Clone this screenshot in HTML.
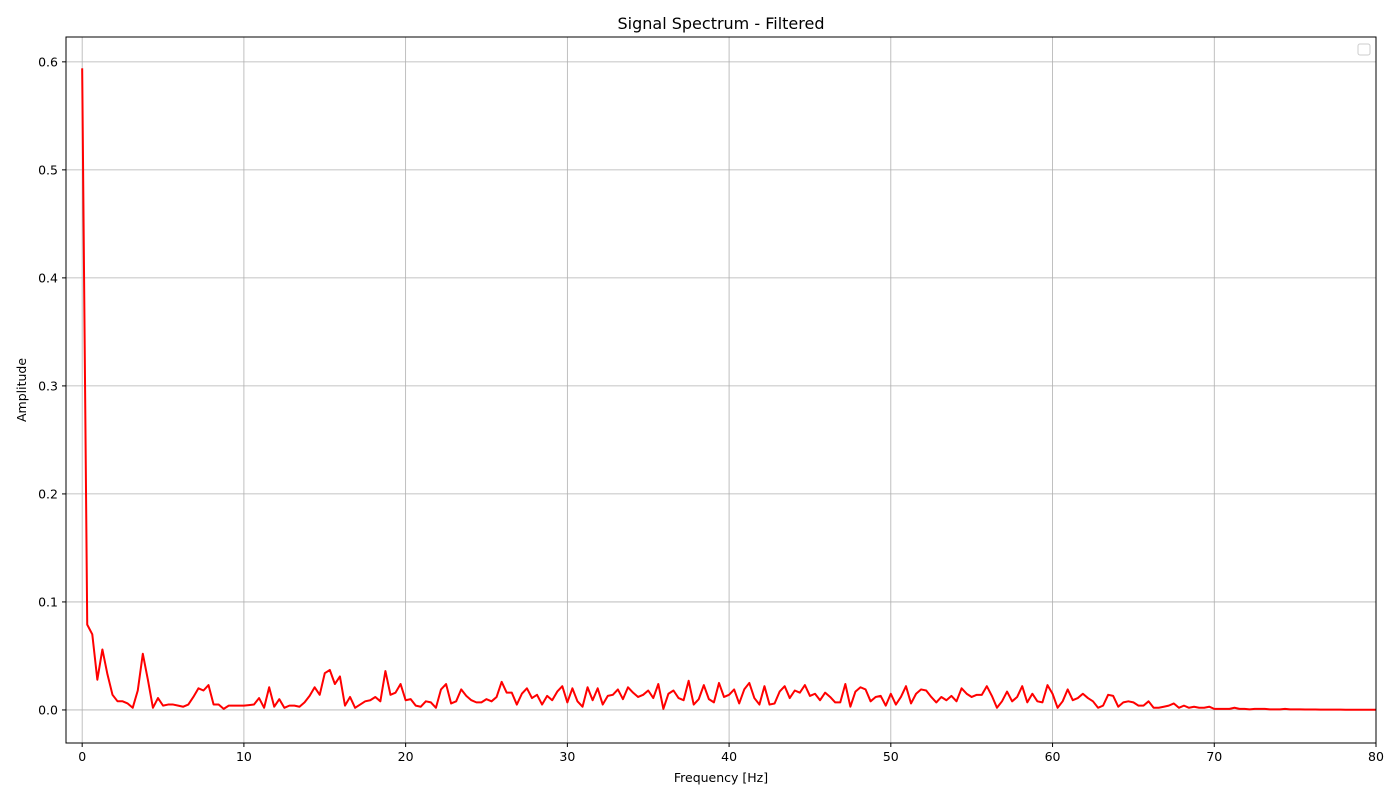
<!DOCTYPE html>
<html><head><meta charset="utf-8"><style>
body{margin:0;background:#fff;font-family:"Liberation Sans","DejaVu Sans",sans-serif}
svg text{font-family:"DejaVu Sans","Liberation Sans",sans-serif;font-size:12.5px;fill:#000}
</style></head><body>
<svg id="chart" width="1400" height="800" xmlns="http://www.w3.org/2000/svg">
<defs><clipPath id="clip"><rect x="66" y="37" width="1310" height="706"/></clipPath></defs>
<rect width="1400" height="800" fill="#fff"/>
<g id="grid"></g>
<g id="ticks"></g>
<path id="line" clip-path="url(#clip)" fill="none" stroke="#ff0000" stroke-width="2" stroke-linejoin="round"/>
<rect x="66" y="37" width="1310" height="706" fill="none" stroke="#000" stroke-width="1"/>
<rect x="1358" y="44" width="12" height="11" rx="2" fill="#fff" stroke="#ccc"/>
<text x="721" y="29" text-anchor="middle" style="font-size:16px">Signal Spectrum - Filtered</text>
<text x="721" y="782" text-anchor="middle">Frequency [Hz]</text>
<text transform="translate(26,390) rotate(-90)" text-anchor="middle">Amplitude</text>
</svg>
<script>
const freqStep = 0.3125;
const amplitudes = [0.594,0.079,0.070,0.028,0.056,0.033,0.014,0.008,0.008,0.006,0.002,0.018,0.052,0.028,0.002,0.011,0.004,0.005,0.005,0.004,0.003,0.005,0.012,0.020,0.018,0.023,0.005,0.005,0.001,0.004,0.004,0.004,0.004,0.0045,0.005,0.011,0.002,0.021,0.003,0.010,0.002,0.004,0.004,0.003,0.007,0.013,0.021,0.014,0.034,0.037,0.024,0.031,0.004,0.012,0.002,0.005,0.008,0.009,0.012,0.008,0.036,0.014,0.016,0.024,0.009,0.010,0.004,0.003,0.008,0.007,0.002,0.019,0.024,0.006,0.008,0.019,0.013,0.009,0.007,0.007,0.010,0.008,0.012,0.026,0.016,0.016,0.005,0.015,0.020,0.011,0.014,0.005,0.013,0.009,0.017,0.022,0.007,0.020,0.008,0.003,0.021,0.009,0.020,0.005,0.013,0.014,0.019,0.010,0.021,0.016,0.012,0.014,0.018,0.011,0.024,0.001,0.015,0.018,0.011,0.009,0.027,0.005,0.010,0.023,0.010,0.007,0.025,0.012,0.014,0.019,0.006,0.019,0.025,0.011,0.005,0.022,0.005,0.006,0.017,0.022,0.011,0.018,0.016,0.023,0.013,0.015,0.009,0.016,0.012,0.007,0.007,0.024,0.003,0.017,0.021,0.019,0.008,0.012,0.013,0.004,0.015,0.005,0.012,0.022,0.006,0.015,0.019,0.018,0.012,0.007,0.012,0.009,0.013,0.008,0.020,0.015,0.012,0.014,0.014,0.022,0.013,0.002,0.008,0.017,0.008,0.012,0.022,0.007,0.015,0.008,0.007,0.023,0.015,0.002,0.008,0.019,0.009,0.011,0.015,0.011,0.008,0.002,0.004,0.014,0.013,0.003,0.007,0.008,0.007,0.004,0.004,0.008,0.002,0.002,0.003,0.004,0.006,0.002,0.004,0.002,0.003,0.002,0.002,0.003,0.001,0.001,0.001,0.001,0.002,0.001,0.001,0.0005,0.001,0.001,0.001,0.0005,0.0005,0.0005,0.001,0.0005,0.0005,0.0005,0.0004,0.0004,0.0004,0.0003,0.0003,0.0003,0.0003,0.0003,0.0002,0.0002,0.0002,0.0002,0.0002,0.0002,0.0002,0.0002];
const xTicks = [0,10,20,30,40,50,60,70,80];
const yTicks = [0.0,0.1,0.2,0.3,0.4,0.5,0.6];
const yTickLabels = ["0.0","0.1","0.2","0.3","0.4","0.5","0.6"];
const L=66,R=1376,T=37,B=743, x0=-1,x1=80,y0=-0.0306,y1=0.623;
const sx=v=>L+(v-x0)/(x1-x0)*(R-L);
const sy=v=>B-(v-y0)/(y1-y0)*(B-T);
const NS="http://www.w3.org/2000/svg";
const grid=document.getElementById('grid'), ticks=document.getElementById('ticks');
function mk(tag,attrs,parent){const e=document.createElementNS(NS,tag);for(const k in attrs)e.setAttribute(k,attrs[k]);parent.appendChild(e);return e;}
xTicks.forEach(t=>{const x=sx(t);
 const g=mk('line',{x1:x,x2:x,y1:T,y2:B,stroke:'#b0b0b0','stroke-width':0.8},grid);
 
 
 const tk=mk('line',{x1:x,x2:x,y1:B,y2:B+4,stroke:'#000'},ticks);
 
 
 const tx=mk('text',{x:x,y:B+18,'text-anchor':'middle'},ticks);tx.textContent=t;
 
 
});
yTicks.forEach((t,i)=>{const y=sy(t);
 const g=mk('line',{x1:L,x2:R,y1:y,y2:y,stroke:'#b0b0b0','stroke-width':0.8},grid);
 
 
 const tk=mk('line',{x1:L-4,x2:L,y1:y,y2:y,stroke:'#000'},ticks);
 
 
 const tx=mk('text',{x:L-8,y:y+4.5,'text-anchor':'end'},ticks);tx.textContent=yTickLabels[i];
 
 
});
document.getElementById('line').setAttribute('d',amplitudes.map((a,i)=>(i?'L':'M')+sx(i*freqStep).toFixed(2)+','+sy(a).toFixed(2)).join(''));
</script>
</body></html>
